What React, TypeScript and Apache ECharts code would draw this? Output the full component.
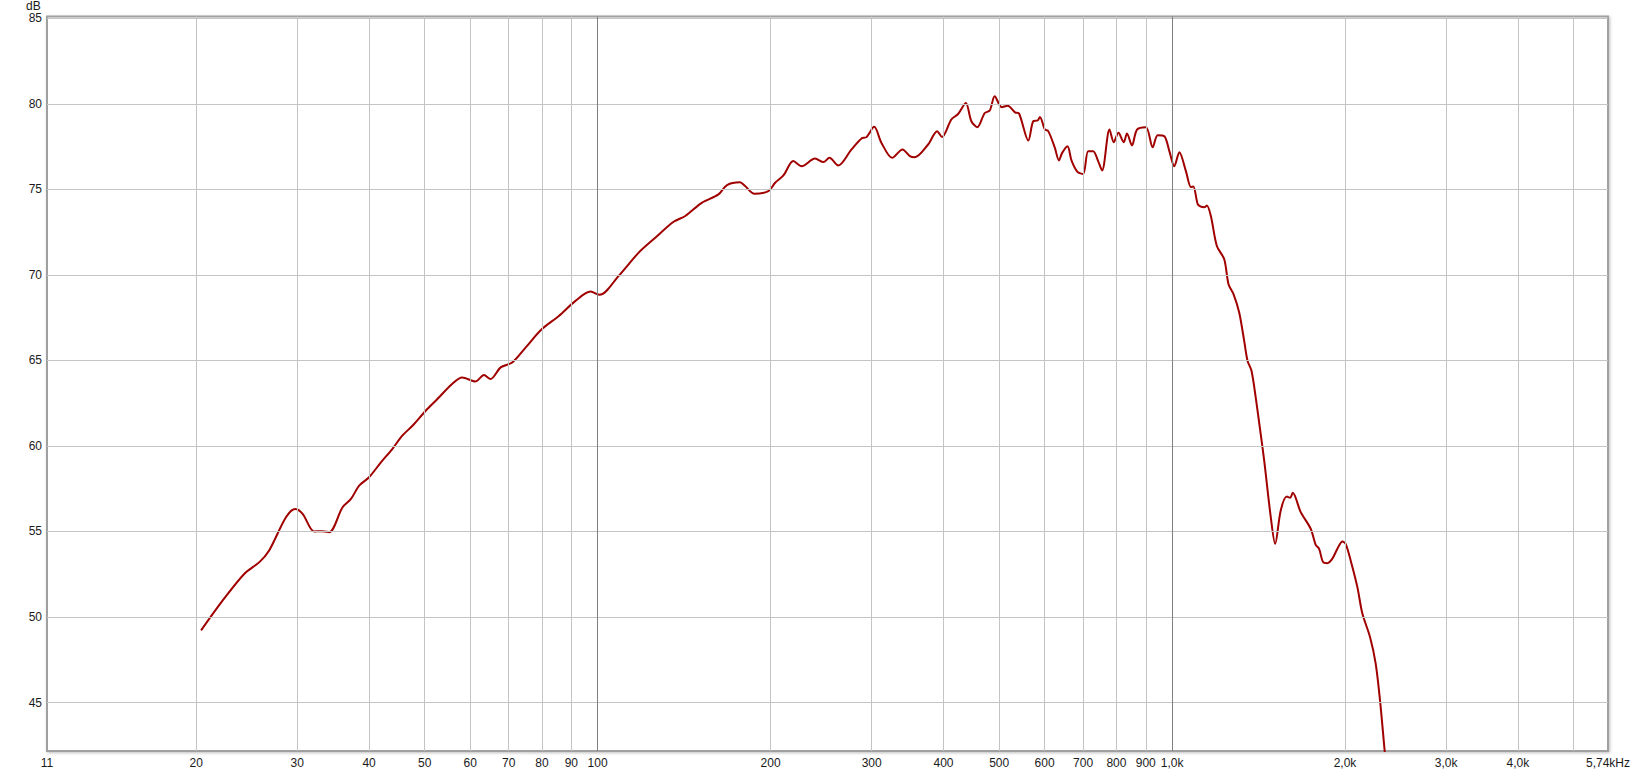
import React, { useEffect, useRef } from "react";
import * as echarts from "echarts";

const freqHz = [
  20.4, 22.25, 24.27, 25.77, 26.8, 28.67, 29.76, 30.65, 32.1, 33.2, 34.1, 35.97, 37.2, 38.45, 40.0,
  41.95, 43.9, 45.7, 47.6, 50.2, 52.25, 55.8, 58.1, 61.3, 63.4, 65.1, 67.8, 71.0, 74.9, 80.0,
  85.6, 91.5, 97.2, 100.8, 108.8, 117.9, 126, 135.6, 142.1, 151.8, 162.3, 168, 176.9, 180.6, 187.5,
  198.3, 203.7, 210.6, 219.1, 226.6, 239, 247.2, 253.2, 262.4, 276.7, 288, 293.8, 303, 312, 325.6,
  339.4, 349.6, 356.6, 376.1, 389.9, 397.7, 412.8, 424.1, 437.5, 447.3, 458.1, 472, 481.5, 491.2, 505.1,
  517.4, 533, 541.6, 562.1, 573.4, 583.4, 588.8, 600.7, 608.8, 625.2, 635.3, 643.7, 657.6, 668.2, 684.4,
  700.2, 714.4, 728.8, 743.5, 755.4, 778.2, 791.6, 806.6, 823.8, 834.7, 851.6, 868.9, 900.6, 925.2, 944.1,
  969.6, 989.2, 1009, 1029.7, 1057.1, 1078.5, 1088.9, 1107.9, 1120, 1137.9, 1149.6, 1168.3, 1196.6, 1232.7, 1253.9,
  1279.3, 1308.8, 1335.3, 1353.2, 1375, 1398.9, 1424, 1446.8, 1485.6, 1511.8, 1546, 1583.7, 1605.4, 1622.1, 1674.9,
  1743.3, 1778.6, 1803, 1831.9, 1863.8, 1901.5, 1940, 1979.3, 2005.5, 2046.1, 2101.9, 2144.4, 2211.2, 2262, 2301.4,
  2344.2, 2370,
];

const levelDb = [
  49.22, 50.97, 52.53, 53.21, 53.89, 55.83, 56.32, 56.03, 55.0, 55.02, 54.96, 56.42, 56.9, 57.68, 58.17,
  59.04, 59.82, 60.6, 61.18, 62.06, 62.64, 63.62, 64.0, 63.77, 64.14, 63.91, 64.59, 64.88, 65.75, 66.83,
  67.6, 68.48, 69.02, 68.83, 69.94, 71.3, 72.17, 73.1, 73.44, 74.21, 74.7, 75.25, 75.41, 75.19, 74.74,
  74.9, 75.38, 75.81, 76.65, 76.35, 76.8, 76.59, 76.84, 76.39, 77.33, 77.97, 78.05, 78.65, 77.71, 76.84,
  77.33, 76.94, 76.88, 77.62, 78.4, 78.06, 79.08, 79.4, 80.05, 78.98, 78.63, 79.46, 79.6, 80.44, 79.8,
  79.89, 79.5, 79.43, 77.85, 78.98, 79.02, 79.23, 78.49, 78.4, 77.42, 76.69, 77.13, 77.52, 76.69, 76.02,
  75.9, 77.23, 77.23, 76.65, 76.1, 78.49, 77.75, 78.3, 77.75, 78.26, 77.56, 78.49, 78.63, 77.46, 78.16,
  78.1, 77.23, 76.35, 77.17, 76.06, 75.13, 75.17, 74.15, 74.0, 73.95, 74.05, 73.44, 71.69, 70.91, 69.45,
  68.87, 67.8, 66.14, 64.98, 64.39, 62.8, 60.89, 59.14, 55.83, 54.28, 56.23, 57.04, 56.97, 57.26, 56.13,
  55.16, 54.22, 53.99, 53.21, 53.15, 53.41, 53.99, 54.42, 54.28, 53.31, 51.75, 50.2, 48.83, 47.28, 45.14,
  42.22, 40.5,
];

const xTickValues = [11, 20, 30, 40, 50, 60, 70, 80, 90, 100, 200, 300, 400, 500, 600, 700, 800, 900, 1000, 2000, 3000, 4000, 5740];
const xTickLabels = ["11", "20", "30", "40", "50", "60", "70", "80", "90", "100", "200", "300", "400", "500", "600", "700", "800", "900", "1,0k", "2,0k", "3,0k", "4,0k", "5,74kHz"];
const xGridLight = [20, 30, 40, 50, 60, 70, 80, 90, 200, 300, 400, 500, 600, 700, 800, 900, 2000, 3000, 4000, 5000];
const xGridDark = [100, 1000];
const yTickValues = [45, 50, 55, 60, 65, 70, 75, 80, 85];

const FONT = "Liberation Sans, Arial, sans-serif";

export default function App() {
  const ref = useRef<HTMLDivElement>(null);
  useEffect(() => {
    const chart = echarts.init(ref.current!, null, { renderer: "svg" });
    const lineData = freqHz.map((f, i) => [f, levelDb[i]]);
    const labelFor = (v: number) => {
      let best = 0;
      let bd = Infinity;
      xTickValues.forEach((t, i) => {
        const d = Math.abs(Math.log10(t) - Math.log10(v));
        if (d < bd) {
          bd = d;
          best = i;
        }
      });
      return xTickLabels[best];
    };
    chart.setOption({
      animation: false,
      backgroundColor: "#ffffff",
      grid: {
        left: 47,
        right: 21,
        top: 16.5,
        bottom: 21,
        show: true,
        backgroundColor: "#ffffff",
        borderColor: "#a0a0a0",
        borderWidth: 2,
        shadowColor: "rgba(0,0,0,0.25)",
        shadowBlur: 3,
        shadowOffsetX: 1,
        shadowOffsetY: 1,
      },
      xAxis: {
        type: "log",
        logBase: 10,
        min: 11,
        max: 5740,
        axisLine: { show: false },
        axisTick: { show: false },
        splitLine: { show: false },
        minorSplitLine: { show: false },
        axisLabel: {
          customValues: xTickValues,
          formatter: (v: number) => labelFor(v),
          margin: 6,
          fontSize: 12,
          color: "#1a1a1a",
          fontFamily: FONT,
          showMinLabel: true,
          showMaxLabel: true,
        },
      },
      yAxis: {
        type: "value",
        min: 42.17,
        max: 85.1,
        axisLine: { show: false },
        axisTick: { show: false },
        splitLine: { show: false },
        axisLabel: {
          customValues: yTickValues,
          margin: 5,
          fontSize: 12,
          color: "#1a1a1a",
          fontFamily: FONT,
        },
      },
      graphic: [
        {
          type: "text",
          left: 26,
          top: 0,
          style: { text: "dB", fontSize: 12, fontFamily: FONT, fill: "#1a1a1a" },
        },
      ],
      series: [
        {
          type: "line",
          data: [],
          z: 1,
          silent: true,
          markLine: {
            silent: true,
            symbol: ["none", "none"],
            label: { show: false },
            emphasis: { disabled: true },
            animation: false,
            lineStyle: { color: "#c4c4c4", width: 1, type: "solid" },
            data: [
              ...xGridLight.map((v) => ({ xAxis: v })),
              ...yTickValues.map((v) => ({ yAxis: v })),
              ...xGridDark.map((v) => ({ xAxis: v, lineStyle: { color: "#7f7f7f", width: 1, type: "solid" } })),
            ],
          },
        },
        {
          type: "line",
          data: lineData,
          z: 3,
          showSymbol: false,
          symbol: "none",
          smooth: 0.3,
          clip: true,
          silent: true,
          lineStyle: { color: "#a00000", width: 2 },
        },
      ],
    });
    return () => chart.dispose();
  }, []);
  return (
    <div
      ref={ref}
      style={{ position: "fixed", left: 0, top: 0, width: 1633, height: 772, background: "#ffffff" }}
    />
  );
}
